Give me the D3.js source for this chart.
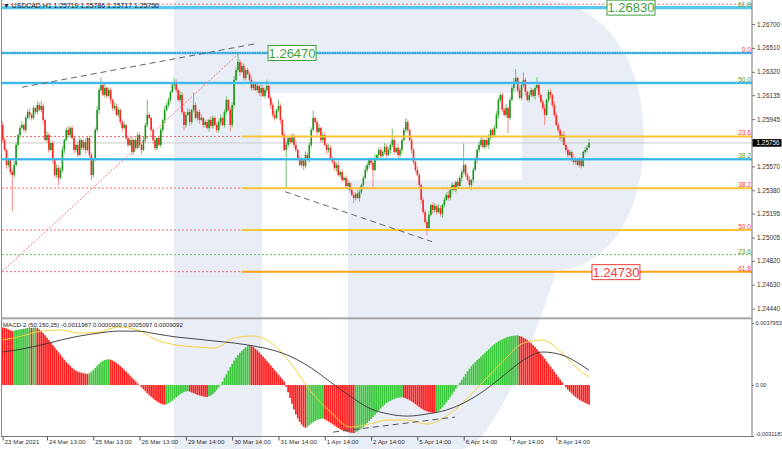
<!DOCTYPE html>
<html><head><meta charset="utf-8">
<script src="https://cdn.jsdelivr.net/npm/d3@7/dist/d3.min.js"></script>
<style>
body{margin:0;background:#fff}
svg{display:block}
text{font-family:"Liberation Sans",Arial,sans-serif}
</style>
</head><body>
<svg id="c" width="782" height="449"></svg>
<script>
// ---------------- DATA ----------------
const symbolName = "USDCAD,H1";
const lastBarOHLC = [1.25719, 1.25786, 1.25717, 1.25756];
const priceBase = 1.24;          // close values are points (1e-5) above this
const firstOpen = 1898;
const close = [
1779,1700,1581,1621,1525,1501,1581,1740,1819,1875,
1898,1859,1954,2002,1978,1954,2033,2002,2057,2018,
2049,1938,1779,1819,1700,1756,1621,1501,1557,1478,
1541,1700,1779,1859,1819,1875,1795,1700,1740,1660,
1779,1716,1763,1700,1795,1660,1501,1621,1859,2018,
2176,2216,2137,2192,2129,2176,2097,2033,2049,1978,
2018,1922,1875,1898,1795,1740,1779,1684,1779,1716,
1819,1740,1700,1779,1898,1978,1954,1859,1779,1716,
1795,1740,1859,1938,2018,2057,2097,2161,2216,2240,
2176,2097,2137,2002,1898,1978,2002,1922,2018,2057,
1954,2002,1938,1954,1898,1922,1875,1938,1890,1954,
1898,1859,1922,1954,1898,2002,2097,2018,1898,2057,
2256,2335,2399,2319,2367,2272,2335,2303,2256,2192,
2224,2176,2208,2153,2192,2129,2176,2208,2113,2057,
1978,1954,2018,2049,1938,1819,1700,1740,1795,1763,
1811,1740,1700,1636,1581,1621,1573,1660,1621,1740,
1859,1954,1922,1843,1875,1779,1819,1740,1700,1716,
1636,1605,1557,1581,1501,1525,1462,1478,1414,1438,
1382,1343,1319,1351,1319,1366,1422,1478,1541,1581,
1621,1597,1541,1636,1660,1700,1652,1684,1724,1660,
1700,1740,1779,1684,1716,1660,1700,1779,1859,1922,
1859,1779,1700,1605,1541,1501,1422,1303,1208,1128,
1081,1184,1263,1224,1255,1208,1239,1192,1263,1303,
1343,1319,1382,1422,1382,1446,1414,1478,1525,1581,
1501,1462,1422,1462,1541,1621,1700,1740,1779,1724,
1779,1740,1795,1859,1819,1875,1978,2097,2137,2018,
1978,2033,1954,2097,2192,2240,2272,2176,2113,2216,
2256,2161,2097,2137,2176,2129,2192,2216,2137,2081,
2033,1978,2097,2161,2137,2057,1978,1898,1859,1795,
1819,1740,1700,1660,1684,1636,1605,1621,1581,1621,
1573,1684,1700,1719,1756];
const wickUp = [ // pips above body
3,2,1,2,1,2,3,2,1,2,3,1,2,2,3,1,2,1,3,2,
4,2,1,3,2,1,2,1,3,2,2,3,1,2,3,1,2,2,1,3,
2,1,2,3,1,2,2,1,2,3,2,6,2,3,1,2,2,1,3,2,
2,1,2,3,1,2,2,3,1,2,2,2,1,3,2,12,2,1,2,3,
1,2,2,1,3,2,2,1,2,3,2,1,3,2,1,2,3,2,1,10,
2,1,2,3,1,2,2,1,3,2,1,2,2,3,1,2,3,1,2,2,
3,2,7,2,3,2,1,2,2,3,1,2,2,1,3,2,2,5,1,2,
2,3,1,5,2,1,2,3,2,1,2,2,3,1,2,2,1,3,2,2,
2,6,1,2,3,1,2,2,1,3,2,1,2,2,3,1,2,1,2,3,
1,2,2,1,3,2,1,2,3,2,1,2,2,3,1,2,2,1,3,2,
2,1,9,2,1,3,2,1,2,3,2,1,2,2,1,3,2,1,2,2,
2,3,1,2,2,1,3,2,1,2,2,3,1,2,2,1,3,2,2,17,
1,2,3,1,2,2,1,3,2,2,1,2,3,1,2,2,3,2,1,2,
2,3,1,2,2,3,7,1,2,2,6,2,1,3,2,1,2,6,2,1,
2,3,1,2,2,1,3,2,2,1,2,3,1,2,2,1,3,2,1,2,
2,1,2,2,3];
const wickDn = [ // pips below body
2,1,3,2,2,29,2,1,2,3,1,2,2,1,3,2,1,2,2,1,
2,3,1,2,2,1,3,2,2,6,1,2,3,1,2,2,1,3,2,2,
1,2,2,3,1,2,4,2,1,2,3,2,1,2,2,1,3,2,2,1,
2,2,3,1,2,2,1,3,2,2,1,2,3,1,2,2,1,2,3,2,
2,1,2,2,3,1,2,2,1,3,2,1,2,2,4,2,1,3,2,2,
1,2,3,1,2,2,1,3,2,2,1,2,2,3,1,2,2,1,5,2,
2,1,2,3,1,2,2,1,3,2,2,1,2,2,3,1,2,2,1,3,
2,2,1,2,3,2,1,30,2,2,1,3,2,2,1,2,3,2,1,2,
2,1,2,3,1,2,2,1,3,2,2,1,2,3,1,2,2,1,2,3,
2,1,4,2,1,3,2,2,1,2,3,2,14,1,2,2,3,1,2,2,
1,3,2,2,1,2,2,3,1,2,2,1,3,2,2,1,2,3,2,1,
6,2,1,3,2,2,1,2,3,2,1,2,2,3,1,2,2,1,3,2,
2,1,2,4,2,1,3,2,2,1,2,2,3,1,2,2,1,3,2,2,
1,2,12,2,1,3,2,2,1,2,2,3,1,2,2,1,3,2,2,1,
2,8,1,2,3,2,2,1,2,2,3,1,2,2,1,3,2,2,1,2,
2,1,2,2,0];
const timeTickIndex = [0,23,47,71,95,119,143,167,191,215,239,263,287];
const timeTickLabel = ["23 Mar 2021","24 Mar 13:00","25 Mar 13:00","26 Mar 13:00","29 Mar 14:00","30 Mar 14:00","31 Mar 14:00","1 Apr 14:00","2 Apr 14:00","5 Apr 14:00","6 Apr 14:00","7 Apr 14:00","8 Apr 14:00"];
const priceTicks = [1.26700,1.26510,1.26320,1.26135,1.25945,1.25570,1.25380,1.25195,1.25005,1.24820,1.24630,1.24440];
const macdHist = [ // 1e-5 units
352,350,346,341,335,330,333,336,338,341,
343,345,347,348,350,349,351,352,348,340,
330,318,305,290,275,260,245,230,215,200,
185,170,155,140,128,118,105,95,88,82,
78,75,72,70,68,72,80,92,105,118,
130,140,148,153,156,158,155,150,143,135,
126,116,105,94,82,70,58,46,34,22,
10,-2,-14,-26,-38,-50,-62,-72,-82,-92,
-100,-108,-114,-118,-120,-118,-112,-105,-96,-86,
-76,-66,-57,-49,-43,-39,-37,-40,-45,-50,
-55,-60,-64,-67,-70,-72,-73,-70,-64,-55,
-44,-30,-15,2,22,44,66,88,110,130,
150,168,184,198,210,220,230,238,244,240,
232,222,212,200,188,175,162,148,134,120,
106,92,78,64,50,36,20,-10,-45,-80,
-115,-150,-180,-205,-225,-242,-255,-262,-255,-246,
-236,-228,-220,-214,-210,-207,-205,-210,-217,-224,
-232,-240,-248,-256,-263,-270,-276,-281,-285,-288,
-291,-293,-294,-290,-283,-275,-266,-256,-245,-233,
-221,-208,-195,-182,-169,-156,-143,-131,-120,-110,
-102,-96,-90,-85,-81,-78,-76,-75,-78,-82,
-87,-93,-100,-108,-117,-126,-135,-143,-150,-156,
-161,-165,-168,-170,-171,-166,-158,-148,-136,-122,
-107,-91,-75,-58,-40,-22,-4,14,32,50,
68,85,100,115,128,140,152,163,174,185,
196,207,218,229,240,250,259,267,274,280,
286,291,295,298,300,302,303,304,300,296,
290,283,275,266,256,245,233,220,206,192,
177,162,146,130,114,98,82,66,50,34,
18,2,-14,-28,-40,-52,-63,-73,-82,-90,
-97,-103,-109,-115,-120];
const macdLineIndex = [0,10,20,30,40,50,60,70,80,90,100,110,120,130,140,150,160,170,180,190,200,210,220,230,240,250,260,270,280,290,300,304];
const macdMain   = [275,300,330,337,318,324,355,337,275,245,233,226,288,300,251,122,-43,-165,-257,-239,-214,-214,-239,-190,-92,31,153,257,275,196,80,51];
const macdSignal = [202,220,245,275,300,318,330,330,312,294,282,269,257,239,214,171,104,18,-67,-141,-177,-190,-177,-153,-104,-31,61,153,202,184,122,91];
const macdTicks = [0.0037953, 0, -0.0031183];
const macdLegend = [-0.0011987, 0.0000000, 0.0005097, 0.0009092];
const fibRedLevel = ["0.0","23.6","38.2","50.0","61.8"];
const fibRedPrice = [1.26470,1.25807,1.25397,1.25065,1.24734];
const fibGreenLevel = ["61.8","50.0","38.2","23.6"];
const fibGreenPrice = [1.26857,1.26232,1.25626,1.24869];
const hLinePrice = [1.26830,1.26470,1.26232,1.25626];
const zoneLinePrice = [1.25807,1.25397,1.25065,1.24734];
const zoneStartIndex = 124;
const calloutText = ["1.26830","1.26470","1.24730"];
const calloutPrice = [1.26830,1.26470,1.24730];
const calloutIndex = [313.3,137.6,305.5];
const trendTopIdx = [10,132.4],   trendTopPrice = [1.26198,1.26547];
const trendMidIdx = [146.4,222.6], trendMidPrice = [1.25369,1.24972];
const fibDiagIdx = [0,122.7],     fibDiagPrice = [1.24739,1.26470];
const macdTrendIdx = [171.3,234.5], macdTrendVal = [-0.00288,-0.00196];

// ---------------- SCALES ----------------
const svg = d3.select("#c");
const N = close.length;
const P = v => priceBase + v / 1e5;
const x = d3.scaleLinear().domain([0, N - 1]).range([2.63, 2.63 + (N - 1) * 1.929]);
const y = d3.scaleLinear().domain([1.243661, 1.268667]).range([318, 3]);
const ym = d3.scaleLinear().domain([-0.0031183, 0.0037953]).range([436, 323]);
const XL = 2, XR = 752;

const defs = svg.append("defs");
defs.append("clipPath").attr("id","cm").append("rect").attr("x",XL).attr("y",0).attr("width",XR-XL).attr("height",317);
defs.append("clipPath").attr("id","cd").append("rect").attr("x",XL).attr("y",319.5).attr("width",XR-XL).attr("height",117);

// watermark
svg.append("path")
  .attr("d","M174,0 H540 C600,0 644,55 644,138 C644,215 605,270 557,270 C540,320 520,380 490,425 Q478,445 462,449 H348 V180 H522 V93 H262 V449 H174 Z")
  .attr("fill","#e9edf6");

const gm = svg.append("g").attr("clip-path","url(#cm)");
const gd = svg.append("g").attr("clip-path","url(#cd)");

// dotted fib lines (full width)
gm.selectAll(".fr").data(fibRedPrice).join("line")
  .attr("x1",XL).attr("x2",XR).attr("y1",d=>y(d)).attr("y2",d=>y(d))
  .attr("stroke","#f06c6c").attr("stroke-width",1).attr("stroke-dasharray","2,2");
gm.selectAll(".fg").data(fibGreenPrice).join("line")
  .attr("x1",XL).attr("x2",XR).attr("y1",d=>y(d)).attr("y2",d=>y(d))
  .attr("stroke",(d,i)=>fibGreenLevel[i]==="61.8" ? "#f06c6c" : "#6cbf6c").attr("stroke-width",1).attr("stroke-dasharray","2,2");

// current price line
gm.append("line").attr("x1",XL).attr("x2",XR)
  .attr("y1",y(lastBarOHLC[3])).attr("y2",y(lastBarOHLC[3]))
  .attr("stroke","#c9c9c9").attr("stroke-width",1);

// candles
const bars = close.map((c,i)=>{
  const o = i ? close[i-1] : firstOpen;
  const top = Math.max(o,c), bot = Math.min(o,c);
  return {i, o, c, h: top + wickUp[i]*10, l: bot - wickDn[i]*10, up: c >= o};
});
gm.selectAll(".wk").data(bars).join("line")
  .attr("x1",d=>x(d.i)).attr("x2",d=>x(d.i))
  .attr("y1",d=>y(P(d.h))).attr("y2",d=>y(P(d.l)))
  .attr("stroke",d=>d.up ? "#5fb85f" : "#f77a7a").attr("stroke-width",0.9);
gm.selectAll(".bd").data(bars).join("rect")
  .attr("x",d=>x(d.i)-0.8).attr("width",1.6)
  .attr("y",d=>y(P(Math.max(d.o,d.c))))
  .attr("height",d=>Math.max(0.8, Math.abs(y(P(d.o))-y(P(d.c)))))
  .attr("fill",d=>d.up ? "#1d961d" : "#ff2424");

// cyan horizontal lines
gm.selectAll(".hc").data(hLinePrice).join("line")
  .attr("x1",XL).attr("x2",XR).attr("y1",d=>y(d)).attr("y2",d=>y(d))
  .attr("stroke","#52c8f2").attr("stroke-width",(d,i)=>i===0?3.2:2.6);
gm.selectAll(".hd").data(hLinePrice.slice(1)).join("line")
  .attr("x1",XL).attr("x2",XR).attr("y1",d=>y(d)).attr("y2",d=>y(d))
  .attr("stroke",(d,i)=>i===0?"#1a4f8a":"#2a9ad8").attr("stroke-width",0.7)
  .attr("stroke-dasharray",(d,i)=>i===0?"1.5,1":null);

// yellow/orange zone lines
gm.selectAll(".zl").data(zoneLinePrice).join("line")
  .attr("x1",x(zoneStartIndex)).attr("x2",XR).attr("y1",d=>y(d)).attr("y2",d=>y(d))
  .attr("stroke",(d,i)=>i===zoneLinePrice.length-1?"#ffa11a":"#f7c43a").attr("stroke-width",2);

// trend lines
const seg = (idx, pr) => d3.line()(idx.map((d,k)=>[x(d), y(pr[k])]));
gm.append("path").attr("d",seg(trendTopIdx,trendTopPrice)).attr("stroke","#666").attr("stroke-width",1).attr("stroke-dasharray","6,4").attr("fill","none");
gm.append("path").attr("d",seg(trendMidIdx,trendMidPrice)).attr("stroke","#666").attr("stroke-width",1).attr("stroke-dasharray","6,4").attr("fill","none");
gm.append("path").attr("d",seg(fibDiagIdx,fibDiagPrice)).attr("stroke","#f07a7a").attr("stroke-width",1).attr("stroke-dasharray","2,1.5").attr("fill","none");

// fib labels (right)
const fibLab = (lv, pr, col) => svg.selectAll(null).data(pr).join("text")
  .attr("x",XR-1).attr("y",d=>Math.max(6.5, y(d)-1)).attr("text-anchor","end")
  .attr("font-size",6.6).attr("fill",col).text((d,i)=>lv[i]);
fibLab(fibRedLevel, fibRedPrice, "#ff3b3b");
fibLab(fibGreenLevel, fibGreenPrice, "#4f9f2f");

// callouts
calloutText.forEach((t,k)=>{
  const col = calloutPrice[k] < lastBarOHLC[3] ? "#f03a3a" : "#3f9f3f";
  const g = svg.append("g").attr("transform",`translate(${x(calloutIndex[k])},${y(calloutPrice[k])})`);
  g.append("rect").attr("x",0).attr("y",-7.5).attr("width",48).attr("height",15)
    .attr("fill","#fff").attr("stroke",col).attr("stroke-width",1);
  g.append("text").attr("x",24).attr("y",0).attr("dy","0.36em").attr("text-anchor","middle")
    .attr("font-size",13).attr("fill",col).text(t);
});

// header
svg.append("text").attr("x",3).attr("y",8).attr("font-size",6.9).attr("fill","#222")
  .text(`▼ ${symbolName}  ${lastBarOHLC.map(d=>d.toFixed(5)).join(" ")}`);

// ---------------- MACD ----------------
gd.selectAll(".hb").data(macdHist).join("rect")
  .attr("x",(d,i)=>x(i)-0.85).attr("width",1.7)
  .attr("y",d=>Math.min(ym(0), ym(d/1e5)))
  .attr("height",d=>Math.abs(ym(d/1e5)-ym(0)))
  .attr("fill",(d,i)=>(i>0 && d>=macdHist[i-1]) ? "#3cc83c" : "#ff1f1f");
const ml = d3.line().x(d=>x(d[0])).y(d=>ym(d[1]/1e5)).curve(d3.curveMonotoneX);
gd.append("path").attr("d",ml(macdLineIndex.map((d,k)=>[d,macdMain[k]])))
  .attr("fill","none").attr("stroke","#f2d23c").attr("stroke-width",1);
gd.append("path").attr("d",ml(macdLineIndex.map((d,k)=>[d,macdSignal[k]])))
  .attr("fill","none").attr("stroke","#333").attr("stroke-width",0.9);
gd.append("path").attr("d",d3.line()(macdTrendIdx.map((d,k)=>[x(d), ym(macdTrendVal[k])])))
  .attr("fill","none").attr("stroke","#555").attr("stroke-width",1).attr("stroke-dasharray","6,4");
svg.append("text").attr("x",3).attr("y",327).attr("font-size",6.1).attr("fill","#222")
  .text(`MACD-2 (50,150,25) ${macdLegend.map(d=>d.toFixed(7)).join(" ")}`);

// ---------------- FRAME & AXES ----------------
svg.append("line").attr("x1",1.5).attr("x2",1.5).attr("y1",0).attr("y2",437).attr("stroke","#8a8a8a");
svg.append("line").attr("x1",XR).attr("x2",XR).attr("y1",0).attr("y2",437).attr("stroke","#777");
svg.append("rect").attr("x",1.5).attr("y",317.3).attr("width",XR-1.5).attr("height",2).attr("fill","#a6a6a6");
svg.append("line").attr("x1",1.5).attr("x2",XR).attr("y1",436.5).attr("y2",436.5).attr("stroke","#777");

const ya = svg.append("g").attr("transform",`translate(${XR},0)`)
  .call(d3.axisRight(y).tickValues(priceTicks).tickFormat(d3.format(".5f")).tickSize(3).tickPadding(2));
ya.select(".domain").remove();
ya.selectAll("line").attr("stroke","#777");
ya.selectAll("text").attr("font-size",6.4).attr("fill","#333").attr("font-family","Liberation Sans, Arial, sans-serif");

// current price box
svg.append("rect").attr("x",XR+0.5).attr("y",y(lastBarOHLC[3])-3.8).attr("width",29).attr("height",7.6).attr("fill","#000");
svg.append("text").attr("x",XR+4.5).attr("y",y(lastBarOHLC[3])).attr("dy","0.35em")
  .attr("font-size",6.4).attr("fill","#fff").text(lastBarOHLC[3].toFixed(5));

const ma = svg.append("g").attr("transform",`translate(${XR},0)`)
  .call(d3.axisRight(ym).tickValues(macdTicks).tickFormat(d=>d===0?"0.00":d.toFixed(7)).tickSize(2).tickPadding(1.5));
ma.select(".domain").remove();
ma.selectAll("line").attr("stroke","#777");
ma.selectAll("text").attr("font-size",5.6).attr("fill","#333").attr("font-family","Liberation Sans, Arial, sans-serif");
ma.selectAll(".tick").filter(d=>d<0).select("text").attr("dy","-0.1em");

const xa = svg.append("g").attr("transform","translate(0,436.5)")
  .call(d3.axisBottom(x).tickValues(timeTickIndex).tickFormat((d,i)=>timeTickLabel[i]).tickSize(4));
xa.select(".domain").remove();
xa.selectAll("line").attr("stroke","#555");
xa.selectAll("text").attr("text-anchor","start").attr("x",1.5).attr("y",3).attr("dy","0.71em")
  .attr("font-size",6.2).attr("fill","#333").attr("font-family","Liberation Sans, Arial, sans-serif");
</script>
</body></html>
